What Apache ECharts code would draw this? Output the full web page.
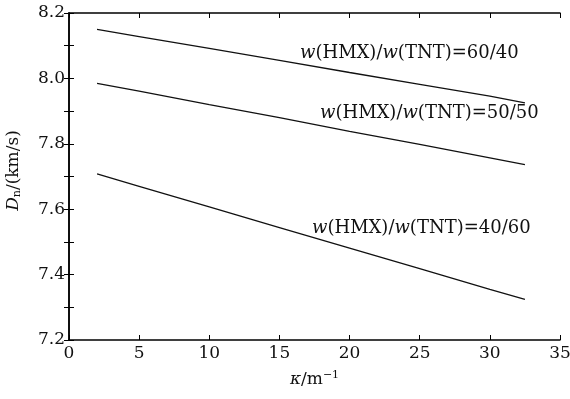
<!DOCTYPE html>
<html>
<head>
<meta charset="utf-8">
<script src="https://cdn.jsdelivr.net/npm/echarts@6/dist/echarts.min.js"></script>
<style>
  html, body { margin: 0; padding: 0; background: #fff; }
  #chart { width: 570px; height: 399px; }
</style>
</head>
<body>
<div id="chart"></div>
<script>
// kappa (m^-1)
const kappa = [2, 5, 10, 15, 20, 25, 30, 32.5];
// detonation velocity Dn (km/s)
const d6040 = [8.150, 8.128, 8.092, 8.055, 8.018, 7.982, 7.946, 7.925];
const d5050 = [7.985, 7.961, 7.920, 7.880, 7.838, 7.798, 7.757, 7.736];
const d4060 = [7.708, 7.670, 7.607, 7.544, 7.481, 7.418, 7.355, 7.324];
const seriesNames = ['60/40', '50/50', '40/60'];

const font = "'DejaVu Serif', serif";

function pairs(ys) {
    return kappa.map((k, i) => [k, ys[i]]);
}

function lineSeries(name, ys) {
    return {
        name: name,
        type: 'line',
        data: pairs(ys),
        showSymbol: false,
        lineStyle: { color: '#111', width: 1.3 },
        animation: false
    };
}

function tag(text, left, top) {
    return {
        type: 'text',
        left: left,
        top: top,
        style: {
            text: '{i|w}(HMX)/{i|w}(TNT)=' + text,
            fontSize: 18,
            fontFamily: font,
            fill: '#111',
            rich: {
                i: { fontStyle: 'italic', fontSize: 18, fontFamily: font, fill: '#111' }
            }
        }
    };
}

const axisLineStyle = { lineStyle: { color: '#000', width: 1.5 } };

let option = {
    backgroundColor: '#fff',
    grid: { left: 69, right: 10, top: 13, bottom: 59, outerBoundsMode: 'none' },
    xAxis: [{
        type: 'value',
        min: 0, max: 35, interval: 5,
        axisLine: axisLineStyle,
        axisTick: { inside: true, length: 5, lineStyle: { color: '#000' } },
        axisLabel: { color: '#111', fontFamily: font, fontSize: 17, margin: 5 },
        splitLine: { show: false },
        name: '{i|κ}/m{sup|−1}',
        nameLocation: 'middle',
        nameGap: 30,
        nameTextStyle: {
            color: '#111', fontFamily: font, fontSize: 17,
            rich: {
                i: { fontStyle: 'italic', fontFamily: font, fontSize: 17 },
                sup: { fontFamily: font, fontSize: 11, verticalAlign: 'top', padding: [0, 0, 8, 0] }
            }
        }
    }, {
        type: 'value', position: 'top',
        min: 0, max: 35, interval: 5,
        axisLine: axisLineStyle,
        axisTick: { inside: true, length: 5, lineStyle: { color: '#000' } },
        axisLabel: { show: false },
        splitLine: { show: false }
    }],
    yAxis: [{
        type: 'value',
        min: 7.2, max: 8.2, interval: 0.1,
        axisLine: { show: true, lineStyle: { color: '#000', width: 1.5 } },
        axisTick: { show: true, inside: true, length: 5, lineStyle: { color: '#000' } },
        axisLabel: {
            color: '#111', fontFamily: font, fontSize: 17, margin: 4,
            formatter: function (v) {
                return Math.round(v * 10) % 2 === 0 ? v.toFixed(1) : '';
            }
        },
        splitLine: { show: false },
        name: '{i|D}{sub|n}/(km/s)',
        nameLocation: 'middle',
        nameRotate: 90,
        nameGap: 46,
        nameTextStyle: {
            color: '#111', fontFamily: font, fontSize: 17,
            padding: [0, 0, 0, 12],
            rich: {
                i: { fontStyle: 'italic', fontFamily: font, fontSize: 17 },
                sub: { fontFamily: font, fontSize: 11, verticalAlign: 'bottom', padding: [8, 0, 0, 0] }
            }
        }
    }, {
        type: 'value', position: 'right',
        min: 7.2, max: 8.2, interval: 0.1,
        axisLine: { show: true, lineStyle: { color: '#000', width: 1.5 } },
        axisTick: { show: true, inside: true, length: 5, lineStyle: { color: '#000' } },
        axisLabel: { show: false },
        splitLine: { show: false }
    }],
    graphic: [
        tag(seriesNames[0], 300, 44),
        tag(seriesNames[1], 320, 104),
        tag(seriesNames[2], 312, 219)
    ],
    series: [
        lineSeries(seriesNames[0], d6040),
        lineSeries(seriesNames[1], d5050),
        lineSeries(seriesNames[2], d4060)
    ]
};

let myChart = echarts.init(document.getElementById('chart'));
myChart.setOption(option);
</script>
</body>
</html>
